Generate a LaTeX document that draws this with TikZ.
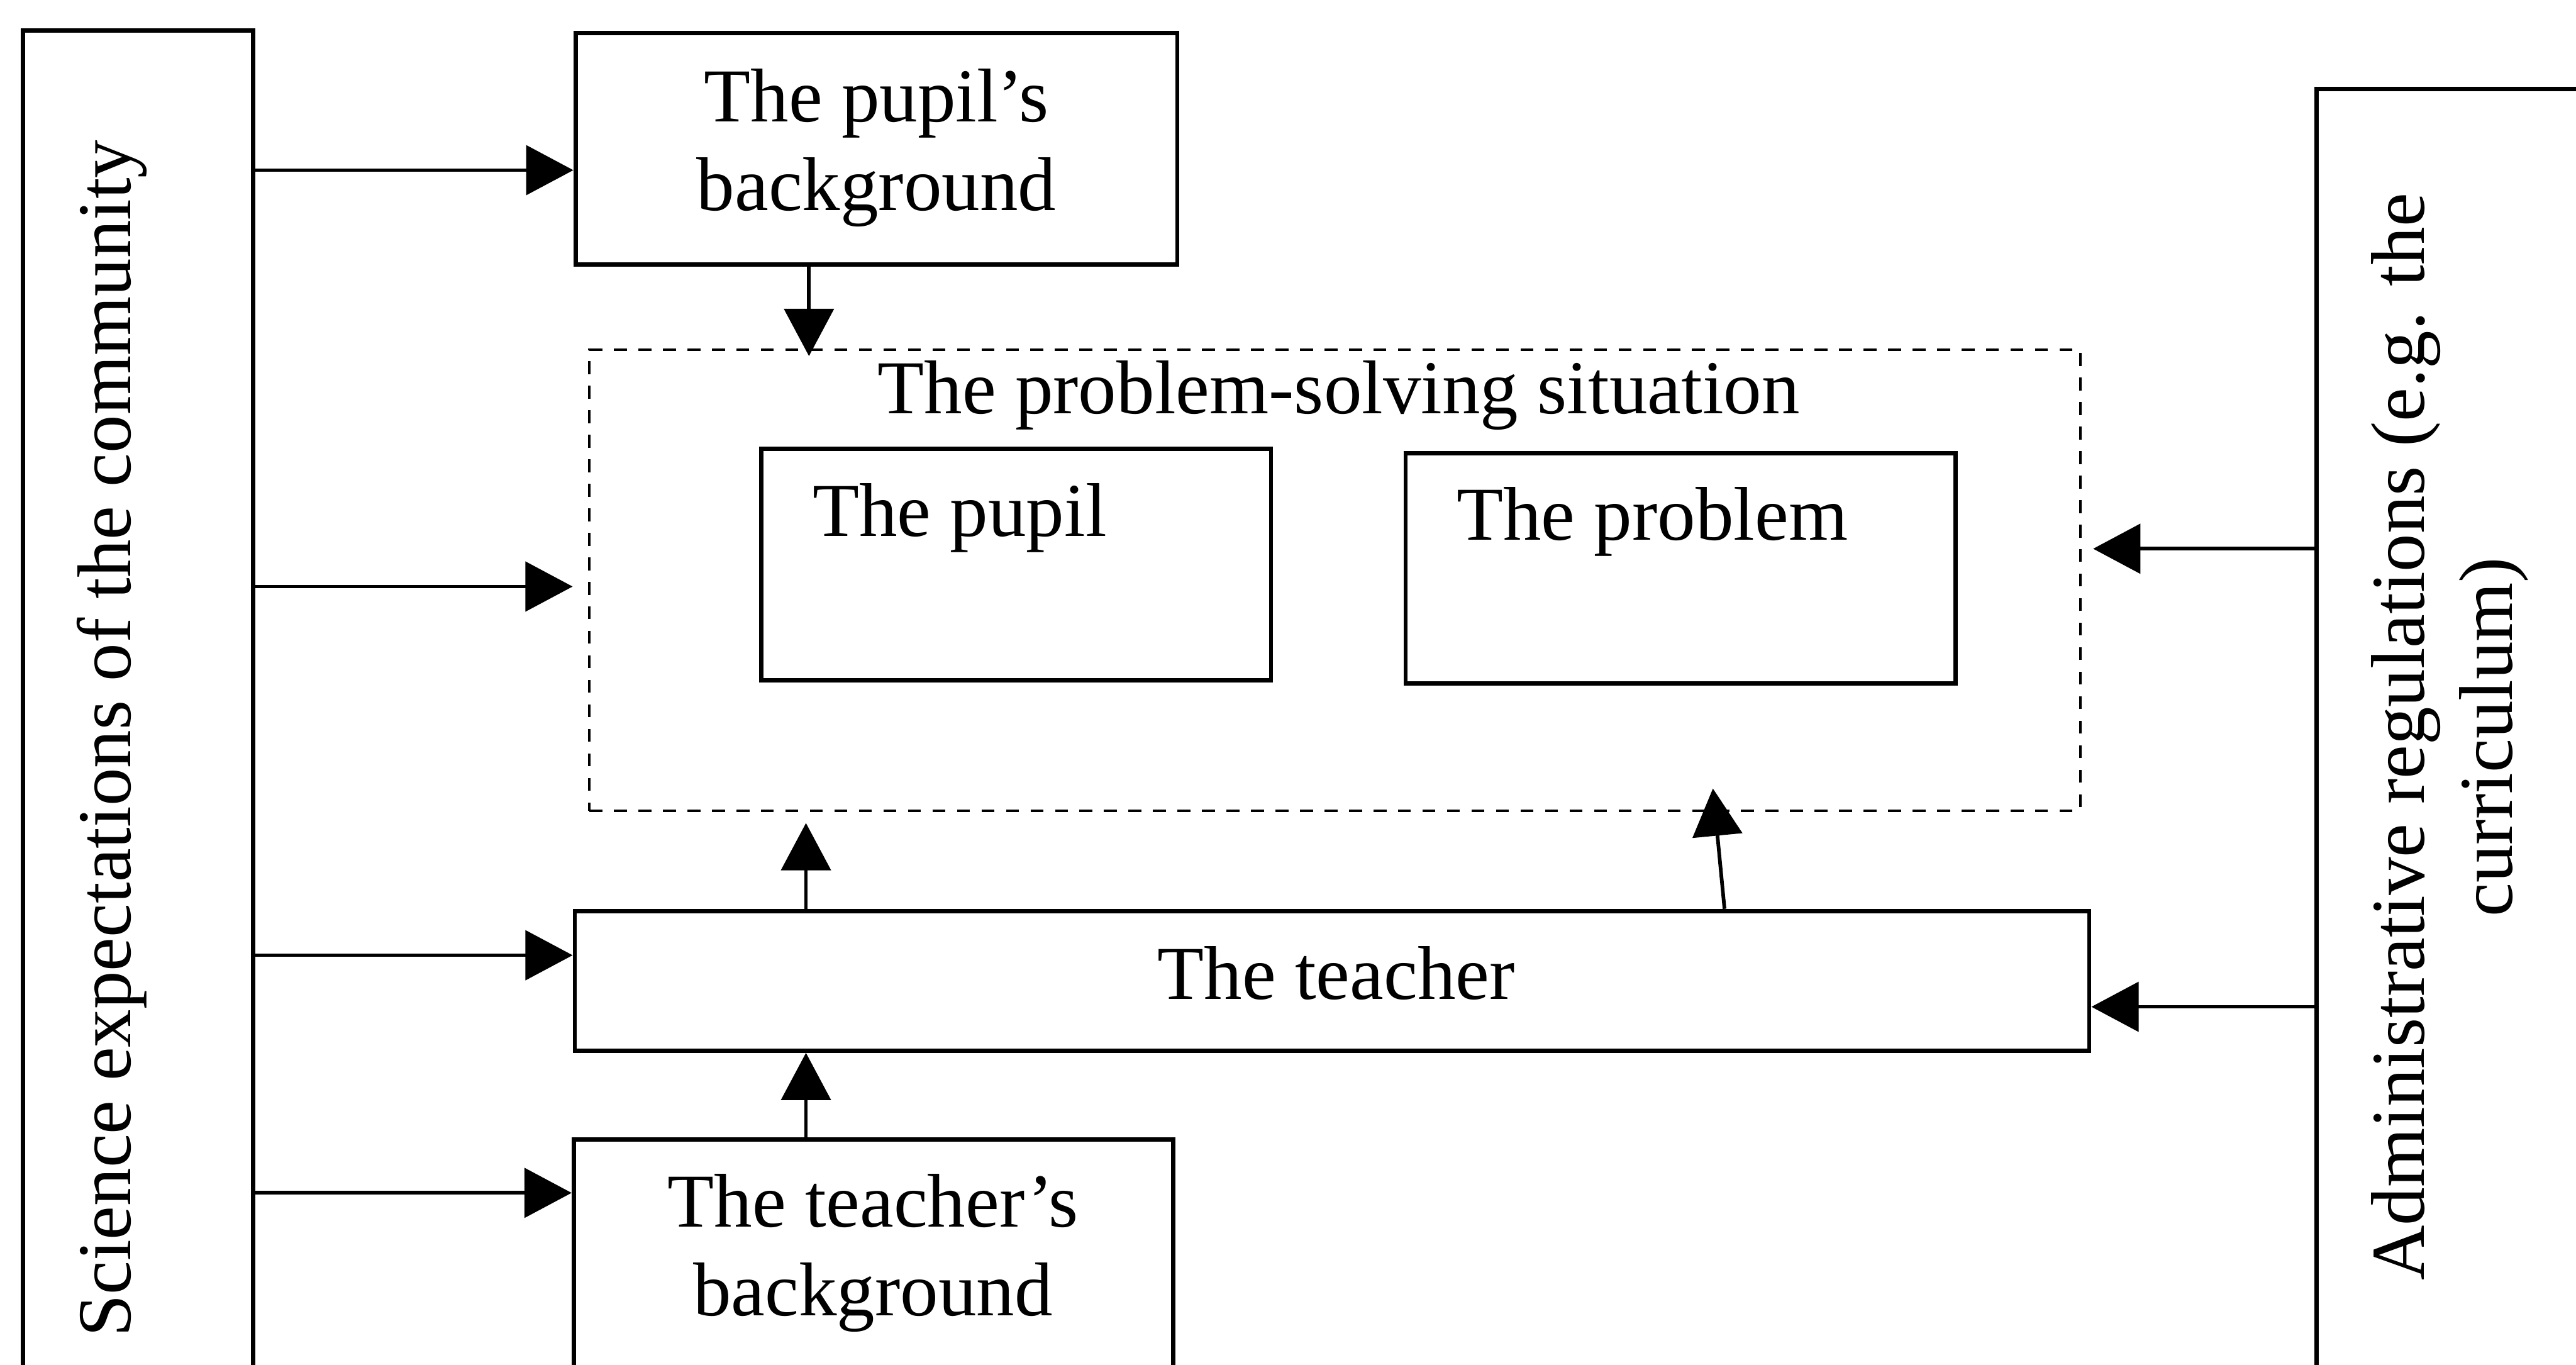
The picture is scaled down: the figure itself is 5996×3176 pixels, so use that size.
\documentclass[tikz,border=0pt]{standalone}
\usepackage{fontspec}
\setmainfont{Liberation Serif}
\usetikzlibrary{arrows.meta}

\begin{document}
\begin{tikzpicture}[
  x=0.01cm, y=-0.01cm,
  txt/.style={font=\fontsize{50.4pt}{58.6pt}\selectfont, inner sep=0pt, align=center},
  box/.style={draw, line width=0.1cm, rectangle, inner sep=0pt},
  dashbox/.style={draw, line width=0.06cm, dash pattern=on 0.3cm off 0.27cm, rectangle, inner sep=0pt},
  arr/.style={line width=0.085cm, -{Triangle[length=1.1cm, width=1.15cm]}},
]
\useasboundingbox (0,0) rectangle (5996,3176);
\clip (0,0) rectangle (5996,3176);
\fill[white] (0,0) rectangle (5996,3176);

% outer influences (cut off at the page edge)
\node[box, minimum width=5.35cm, minimum height=32.28cm] (sci) at (321.5,1686) {};
\node[box, minimum width=8.08cm, minimum height=30.92cm] (adm) at (5796,1754) {};

% backgrounds, situation and teacher
\node[box, minimum width=14.0cm, minimum height=5.38cm] (pbg) at (2040,346) {};
\node[dashbox, minimum width=34.69cm, minimum height=10.72cm] (sit) at (3107.5,1350) {};
\node[box, minimum width=11.86cm, minimum height=5.38cm] (pupil) at (2365,1314) {};
\node[box, minimum width=12.80cm, minimum height=5.35cm] (prob) at (3912,1322.5) {};
\node[box, minimum width=35.23cm, minimum height=3.25cm] (tch) at (3100.5,2282.5) {};
\node[box, minimum width=13.94cm, minimum height=5.38cm] (tbg) at (2033,2921) {};

% labels (multi-line labels sit on the baseline of their last line)
\node[txt, rotate=90, anchor=base] (sci-t) at (304,1719) {Science expectations of the community};
\node[txt, rotate=90, anchor=base] (adm-t) at (5848,1715) {Administrative regulations (e.g. the\\curriculum)};
\node[txt, anchor=base] (pbg-t) at (2040,490) {The pupil’s\\background};
\node[txt, anchor=base] (sit-t) at (3116,963) {The problem-solving situation};
\node[txt, anchor=base west] (pupil-t) at (1891,1248) {The pupil};
\node[txt, anchor=base west] (prob-t) at (3390,1256) {The problem};
\node[txt, anchor=base] (tch-t) at (3110,2326) {The teacher};
\node[txt, anchor=base] (tbg-t) at (2032,3062) {The teacher’s\\background};

% connector heights and columns
\coordinate (l1) at (0,396);
\coordinate (l2) at (0,1365);
\coordinate (l3) at (0,2223);
\coordinate (l4) at (0,2776);
\coordinate (r1) at (0,1277);
\coordinate (r2) at (0,2343);
\coordinate (c1) at (1883,0);
\coordinate (c2) at (1876,0);
\coordinate (s0) at (4014,0);
\coordinate (s1) at (3987,1835);

% community expectations
\draw[arr] (sci.east |- l1) -- (pbg.west |- l1);
\draw[arr, shorten >=0.36cm] (sci.east |- l2) -- (sit.west |- l2);
\draw[arr] (sci.east |- l3) -- (tch.west |- l3);
\draw[arr] (sci.east |- l4) -- (tbg.west |- l4);

% administrative regulations
\draw[arr, shorten >=0.26cm] (adm.west |- r1) -- (sit.east |- r1);
\draw[arr] (adm.west |- r2) -- (tch.east |- r2);

% vertical influences
\draw[arr, shorten >=-0.18cm] (pbg.south -| c1) -- (sit.north -| c1);
\draw[arr, shorten >=0.26cm] (tch.north -| c2) -- (sit.south -| c2);
\draw[arr] (tbg.north -| c2) -- (tch.south -| c2);
\draw[arr] (tch.north -| s0) -- (s1);
\end{tikzpicture}
\end{document}
